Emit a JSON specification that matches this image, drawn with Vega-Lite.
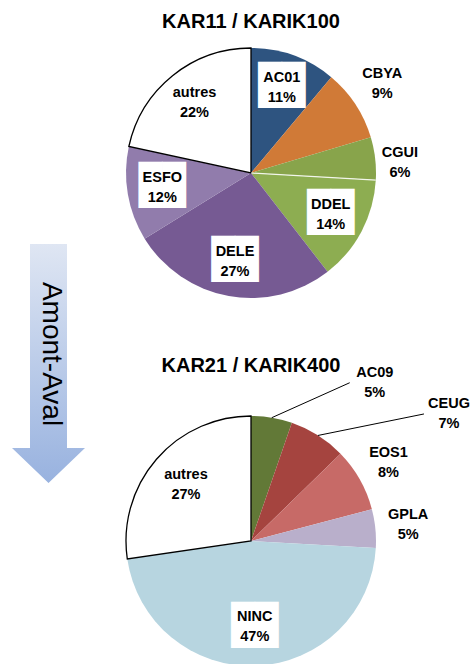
{
  "$schema": "https://vega.github.io/schema/vega-lite/v6.json",
  "padding": {"left": 12, "top": 12, "right": 0, "bottom": 0},
  "bounds": "flush",
  "spacing": 118,
  "resolve": {"scale": {"color": "independent"}},
  "config": {"view": {"stroke": null}},
  "datasets": {
    "top": [
      {"i": 1, "name": "AC01", "pct": "11%", "value": 11.1},
      {"i": 2, "name": "CBYA", "pct": "9%", "value": 9.3},
      {"i": 3, "name": "CGUI", "pct": "6%", "value": 5.5},
      {"i": 4, "name": "DDEL", "pct": "14%", "value": 13.6},
      {"i": 5, "name": "DELE", "pct": "27%", "value": 26.7},
      {"i": 6, "name": "ESFO", "pct": "12%", "value": 12.2},
      {"i": 7, "name": "autres", "pct": "22%", "value": 21.6}
    ],
    "bottom": [
      {"i": 1, "name": "AC09", "pct": "5%", "value": 5.3},
      {"i": 2, "name": "CEUG", "pct": "7%", "value": 7.4},
      {"i": 3, "name": "EOS1", "pct": "8%", "value": 8.2},
      {"i": 4, "name": "GPLA", "pct": "5%", "value": 5.0},
      {"i": 5, "name": "NINC", "pct": "47%", "value": 46.8},
      {"i": 6, "name": "autres", "pct": "27%", "value": 27.3}
    ],
    "titles": [
      {"station": "top", "title": "KAR11 / KARIK100"},
      {"station": "bottom", "title": "KAR21 / KARIK400"}
    ],
    "decor": [{"label": "Amont-Aval"}]
  },
  "vconcat": [
    {
      "width": 300,
      "height": 250,
      "layer": [
        {
          "data": {"name": "decor"},
          "mark": {"type": "point", "filled": true, "size": 4, "opacity": 1, "strokeWidth": 0,
            "shape": "M-221,71L-184,71L-184,275L-166,275L-202.5,310L-239,275L-221,275Z",
            "fill": {"gradient": "linear", "x1": 0, "y1": 0, "x2": 0, "y2": 1,
              "stops": [{"offset": 0, "color": "#DFE6F3"}, {"offset": 1, "color": "#98B2DF"}]}},
          "encoding": {}
        },
        {
          "data": {"name": "decor"},
          "mark": {"type": "text", "angle": 90, "font": "Liberation Sans", "fontSize": 28, "align": "center", "baseline": "middle", "dx": 181, "dy": 200, "color": "#000000"},
          "encoding": {"text": {"field": "label", "type": "nominal"}}
        },
        {
          "data": {"name": "titles"},
          "transform": [{"filter": "datum.station === 'top'"}],
          "mark": {"type": "text", "font": "Liberation Sans", "fontSize": 20, "fontWeight": "bold", "align": "center", "baseline": "alphabetic", "dy": -145, "color": "#000000"},
          "encoding": {"text": {"field": "title", "type": "nominal"}}
        },
        {
          "data": {"name": "top"},
          "transform": [
            {"stack": "value", "groupby": [], "sort": [{"field": "i", "order": "ascending"}], "as": ["v0", "v1"]}
          ],
          "mark": {"type": "arc", "radius": 125, "stroke": "#000000"},
          "encoding": {
            "theta": {"field": "v0", "type": "quantitative", "stack": false, "scale": {"domain": [0, 100]}},
            "theta2": {"field": "v1"},
            "color": {"field": "name", "type": "nominal", "legend": null,
              "scale": {"domain": ["AC01", "CBYA", "CGUI", "DDEL", "DELE", "ESFO", "autres"],
                        "range": ["#2E5480", "#D07A37", "#88A44B", "#8DAD51", "#765A93", "#917CAC", "#FFFFFF"]}},
            "strokeWidth": {"condition": {"test": "datum.name === 'autres'", "value": 1.3}, "value": 0}
          }
        },
        {
          "data": {"name": "top"},
          "transform": [
            {"stack": "value", "groupby": [], "sort": [{"field": "i", "order": "ascending"}], "as": ["v0", "v1"]},
            {"filter": {"field": "name", "oneOf": ["DDEL"]}}
          ],
          "mark": {"type": "arc", "radius": 125, "fillOpacity": 0, "stroke": "#FFFFFF", "strokeWidth": 1.2, "strokeOpacity": 0.85},
          "encoding": {
            "theta": {"field": "v0", "type": "quantitative", "stack": false, "scale": {"domain": [0, 100]}},
            "theta2": {"field": "v0"}
          }
        },
        {
          "data": {"name": "top"},
          "transform": [
            {"stack": "value", "groupby": [], "sort": [{"field": "i", "order": "ascending"}], "as": ["v0", "v1"]},
            {"calculate": "(datum.v0 + datum.v1) / 2", "as": "mid"},
            {"filter": {"field": "name", "oneOf": ["AC01", "DDEL", "DELE", "ESFO"]}}
          ],
          "mark": {"type": "text", "radius": 90, "dy": -2, "font": "DejaVu Sans Mono", "fontSize": 39, "color": "#FFFFFF", "baseline": "middle", "align": "center"},
          "encoding": {
            "theta": {"field": "mid", "type": "quantitative", "scale": {"domain": [0, 100]}},
            "text": {"value": "██"}
          }
        },
        {
          "data": {"name": "top"},
          "transform": [
            {"stack": "value", "groupby": [], "sort": [{"field": "i", "order": "ascending"}], "as": ["v0", "v1"]},
            {"calculate": "(datum.v0 + datum.v1) / 2", "as": "mid"},
            {"calculate": "datum.name + '\\n' + datum.pct", "as": "lbl"},
            {"filter": {"field": "name", "oneOf": ["AC01", "DDEL", "DELE", "ESFO", "autres"]}}
          ],
          "mark": {"type": "text", "radius": 90, "dy": -10, "font": "Liberation Sans", "fontWeight": "bold", "fontSize": 14.5, "lineHeight": 20, "lineBreak": "\n", "baseline": "middle", "align": "center", "color": "#000000"},
          "encoding": {
            "theta": {"field": "mid", "type": "quantitative", "scale": {"domain": [0, 100]}},
            "text": {"field": "lbl", "type": "nominal"}
          }
        },
        {
          "data": {"name": "top"},
          "transform": [
            {"stack": "value", "groupby": [], "sort": [{"field": "i", "order": "ascending"}], "as": ["v0", "v1"]},
            {"calculate": "(datum.v0 + datum.v1) / 2", "as": "mid"},
            {"calculate": "datum.name + '\\n' + datum.pct", "as": "lbl"},
            {"filter": {"field": "name", "oneOf": ["CBYA"]}}
          ],
          "mark": {"type": "text", "radius": 157, "dy": -13, "font": "Liberation Sans", "fontWeight": "bold", "fontSize": 14.5, "lineHeight": 20, "lineBreak": "\n", "baseline": "middle", "align": "center", "color": "#000000"},
          "encoding": {
            "theta": {"field": "mid", "type": "quantitative", "scale": {"domain": [0, 100]}},
            "text": {"field": "lbl", "type": "nominal"}
          }
        },
        {
          "data": {"name": "top"},
          "transform": [
            {"stack": "value", "groupby": [], "sort": [{"field": "i", "order": "ascending"}], "as": ["v0", "v1"]},
            {"calculate": "(datum.v0 + datum.v1) / 2", "as": "mid"},
            {"calculate": "datum.name + '\\n' + datum.pct", "as": "lbl"},
            {"filter": {"field": "name", "oneOf": ["CGUI"]}}
          ],
          "mark": {"type": "text", "radius": 150, "dy": -3, "font": "Liberation Sans", "fontWeight": "bold", "fontSize": 14.5, "lineHeight": 20, "lineBreak": "\n", "baseline": "middle", "align": "center", "color": "#000000"},
          "encoding": {
            "theta": {"field": "mid", "type": "quantitative", "scale": {"domain": [0, 100]}},
            "text": {"field": "lbl", "type": "nominal"}
          }
        }
      ]
    },
    {
      "width": 300,
      "height": 250,
      "layer": [
        {
          "data": {"name": "titles"},
          "transform": [{"filter": "datum.station === 'bottom'"}],
          "mark": {"type": "text", "font": "Liberation Sans", "fontSize": 20, "fontWeight": "bold", "align": "center", "baseline": "alphabetic", "dy": -169, "color": "#000000"},
          "encoding": {"text": {"field": "title", "type": "nominal"}}
        },
        {
          "data": {"name": "bottom"},
          "transform": [
            {"stack": "value", "groupby": [], "sort": [{"field": "i", "order": "ascending"}], "as": ["v0", "v1"]}
          ],
          "mark": {"type": "arc", "radius": 125, "stroke": "#000000"},
          "encoding": {
            "theta": {"field": "v0", "type": "quantitative", "stack": false, "scale": {"domain": [0, 100]}},
            "theta2": {"field": "v1"},
            "color": {"field": "name", "type": "nominal", "legend": null,
              "scale": {"domain": ["AC09", "CEUG", "EOS1", "GPLA", "NINC", "autres"],
                        "range": ["#627937", "#A5443F", "#C76A67", "#B9AFCB", "#B7D5E0", "#FFFFFF"]}},
            "strokeWidth": {"condition": {"test": "datum.name === 'autres'", "value": 1.3}, "value": 0}
          }
        },
        {
          "data": {"name": "bottom"},
          "transform": [
            {"stack": "value", "groupby": [], "sort": [{"field": "i", "order": "ascending"}], "as": ["v0", "v1"]},
            {"calculate": "(datum.v0 + datum.v1) / 2", "as": "mid"},
            {"filter": {"field": "name", "oneOf": ["NINC"]}}
          ],
          "mark": {"type": "text", "radius": 87, "dy": -2, "font": "DejaVu Sans Mono", "fontSize": 39, "color": "#FFFFFF", "baseline": "middle", "align": "center"},
          "encoding": {
            "theta": {"field": "mid", "type": "quantitative", "scale": {"domain": [0, 100]}},
            "text": {"value": "██"}
          }
        },
        {
          "data": {"name": "bottom"},
          "transform": [
            {"stack": "value", "groupby": [], "sort": [{"field": "i", "order": "ascending"}], "as": ["v0", "v1"]},
            {"calculate": "(datum.v0 + datum.v1) / 2", "as": "mid"},
            {"calculate": "datum.name + '\\n' + datum.pct", "as": "lbl"},
            {"filter": {"field": "name", "oneOf": ["NINC", "autres"]}}
          ],
          "mark": {"type": "text", "radius": 86, "dy": -10, "font": "Liberation Sans", "fontWeight": "bold", "fontSize": 14.5, "lineHeight": 20, "lineBreak": "\n", "baseline": "middle", "align": "center", "color": "#000000"},
          "encoding": {
            "theta": {"field": "mid", "type": "quantitative", "scale": {"domain": [0, 100]}},
            "text": {"field": "lbl", "type": "nominal"}
          }
        },
        {
          "data": {"name": "bottom"},
          "transform": [
            {"stack": "value", "groupby": [], "sort": [{"field": "i", "order": "ascending"}], "as": ["v0", "v1"]},
            {"calculate": "(datum.v0 + datum.v1) / 2", "as": "mid"},
            {"calculate": "datum.name + '\\n' + datum.pct", "as": "lbl"},
            {"filter": {"field": "name", "oneOf": ["EOS1", "GPLA"]}}
          ],
          "mark": {"type": "text", "radius": 158, "dy": -10, "font": "Liberation Sans", "fontWeight": "bold", "fontSize": 14.5, "lineHeight": 20, "lineBreak": "\n", "baseline": "middle", "align": "center", "color": "#000000"},
          "encoding": {
            "theta": {"field": "mid", "type": "quantitative", "scale": {"domain": [0, 100]}},
            "text": {"field": "lbl", "type": "nominal"}
          }
        },
        {
          "data": {"name": "bottom"},
          "transform": [
            {"stack": "value", "groupby": [], "sort": [{"field": "i", "order": "ascending"}], "as": ["v0", "v1"]},
            {"calculate": "(datum.v0 + datum.v1) / 2", "as": "mid"},
            {"calculate": "datum.name + '\\n' + datum.pct", "as": "lbl"},
            {"filter": {"field": "name", "oneOf": ["AC09", "CEUG"]}},
            {"calculate": "datum.mid * PI / 50", "as": "a"},
            {"calculate": "125 * sin(datum.a)", "as": "sx"},
            {"calculate": "125 * cos(datum.a)", "as": "sy"},
            {"calculate": "datum.sx + (datum.name === 'AC09' ? 78 : 106)", "as": "ex"},
            {"calculate": "datum.sy + (datum.name === 'AC09' ? 35 : 21.5)", "as": "ey"}
          ],
          "layer": [
            {
              "mark": {"type": "rule", "color": "#000000", "strokeWidth": 1},
              "encoding": {
                "x": {"field": "sx", "type": "quantitative", "axis": null, "scale": {"domain": [-150, 150], "nice": false, "zero": false}},
                "y": {"field": "sy", "type": "quantitative", "axis": null, "scale": {"domain": [-125, 125], "nice": false, "zero": false}},
                "x2": {"field": "ex"},
                "y2": {"field": "ey"}
              }
            },
            {
              "mark": {"type": "text", "dx": 25, "dy": -10, "font": "Liberation Sans", "fontWeight": "bold", "fontSize": 14.5, "lineHeight": 20, "lineBreak": "\n", "baseline": "middle", "align": "center", "color": "#000000"},
              "encoding": {
                "x": {"field": "ex", "type": "quantitative"},
                "y": {"field": "ey", "type": "quantitative"},
                "text": {"field": "lbl", "type": "nominal"}
              }
            }
          ]
        }
      ]
    }
  ]
}
